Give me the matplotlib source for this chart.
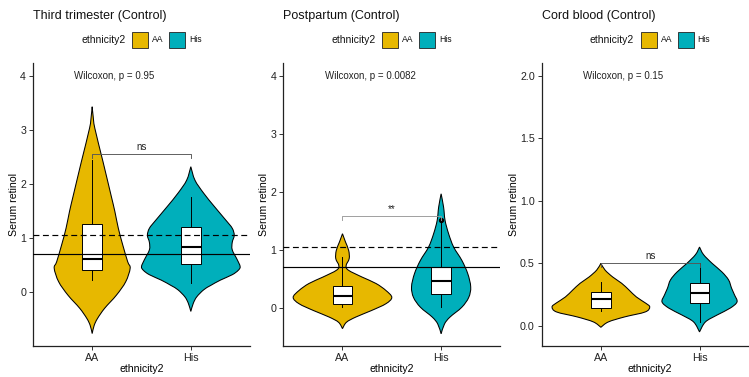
import numpy as np
import matplotlib.pyplot as plt
from matplotlib.patches import Rectangle, PathPatch
from matplotlib.path import Path

plt.rcParams['font.family'] = ['Liberation Sans', 'DejaVu Sans']

# datos
groups = ['AA', 'His']
colors = ['#E7B800', '#00AFBB']
titles = ['Third trimester (Control)', 'Postpartum (Control)', 'Cord blood (Control)']
p_labels = ['Wilcoxon, p = 0.95', 'Wilcoxon, p = 0.0082', 'Wilcoxon, p = 0.15']
sig_labels = ['ns', '**', 'ns']
bracket_y = [2.55, 1.58, 0.50]
label_y = [4.0, 4.0, 2.0]
yticks = [[0, 1, 2, 3, 4], [0, 1, 2, 3, 4], [0.0, 0.5, 1.0, 1.5, 2.0]]
ylims = [(-1.0, 4.24), (-0.66, 4.23), (-0.163, 2.105)]
ref_solid = [0.7, 0.7, None]
ref_dashed = [1.05, 1.05, None]

# contorno de los violines: nivel y medio ancho
third_aa_y = [-0.77, -0.62, -0.49, -0.30, -0.06, 0.19, 0.44, 0.56, 0.87, 1.18, 1.49, 1.80, 2.41, 3.03, 3.25, 3.43]
third_aa_w = [0, 0.02, 0.054, 0.127, 0.245, 0.34, 0.385, 0.36, 0.31, 0.265, 0.23, 0.19, 0.11, 0.027, 0.01, 0]
third_his_y = [-0.36, -0.21, -0.09, 0.04, 0.12, 0.22, 0.32, 0.40, 0.47, 0.60, 0.78, 0.92, 1.05, 1.18, 1.33, 1.58, 1.83, 2.07, 2.32]
third_his_w = [0, 0.025, 0.06, 0.13, 0.20, 0.30, 0.42, 0.48, 0.50, 0.47, 0.42, 0.42, 0.44, 0.42, 0.355, 0.24, 0.13, 0.042, 0]
post_aa_y = [-0.36, -0.25, -0.16, -0.05, 0.07, 0.18, 0.30, 0.42, 0.53, 0.65, 0.73, 0.85, 0.99, 1.14, 1.28]
post_aa_w = [0, 0.04, 0.135, 0.29, 0.44, 0.50, 0.44, 0.34, 0.20, 0.06, 0.037, 0.068, 0.063, 0.03, 0]
post_his_y = [-0.45, -0.28, -0.16, 0.01, 0.18, 0.36, 0.59, 0.82, 1.05, 1.28, 1.51, 1.74, 1.97]
post_his_w = [0, 0.034, 0.09, 0.21, 0.28, 0.30, 0.27, 0.21, 0.127, 0.076, 0.04, 0.025, 0]
cord_aa_y = [-0.013, 0.03, 0.07, 0.11, 0.15, 0.18, 0.23, 0.286, 0.34, 0.39, 0.446, 0.50]
cord_aa_w = [0, 0.076, 0.24, 0.45, 0.495, 0.455, 0.36, 0.285, 0.21, 0.12, 0.042, 0]
cord_his_y = [-0.05, 0.03, 0.086, 0.14, 0.19, 0.246, 0.30, 0.366, 0.43, 0.50, 0.57, 0.63]
cord_his_w = [0, 0.06, 0.18, 0.31, 0.38, 0.355, 0.325, 0.295, 0.228, 0.127, 0.04, 0]

# cajas: bigote bajo, q1, mediana, q3, bigote alto
third_box = [[0.22, 0.41, 0.61, 1.25, 2.45], [0.17, 0.52, 0.84, 1.20, 1.75]]
post_box = [[0.02, 0.06, 0.21, 0.38, 0.87], [0.01, 0.24, 0.47, 0.71, 1.48]]
cord_box = [[0.12, 0.14, 0.21, 0.27, 0.35], [0.03, 0.18, 0.265, 0.345, 0.50]]
outliers = [[[], []], [[], [1.51]], [[], []]]

violins = [[(third_aa_y, third_aa_w), (third_his_y, third_his_w)],
           [(post_aa_y, post_aa_w), (post_his_y, post_his_w)],
           [(cord_aa_y, cord_aa_w), (cord_his_y, cord_his_w)]]
boxes = [third_box, post_box, cord_box]
bracket_col = ['#555555', '#999999', '#555555']


def side_curve(xs, ys):
    # curva suave (catmull-rom pasada a bezier) por los puntos de un lado
    p = np.column_stack([xs, ys])
    p = np.vstack([p[0], p, p[-1]])
    verts = []
    for k in range(1, len(p) - 2):
        c1 = p[k] + (p[k + 1] - p[k - 1]) / 6
        c2 = p[k + 1] - (p[k + 2] - p[k]) / 6
        verts += [c1, c2, p[k + 1]]
    return verts


def violin_patch(x, vy, vw, color):
    vy = np.array(vy)
    vw = np.array(vw)
    right = side_curve(x + vw, vy)
    left = side_curve((x - vw)[::-1], vy[::-1])
    verts = [(x, vy[0])] + right + left + [(x, vy[0])]
    codes = [Path.MOVETO] + [Path.CURVE4] * (len(right) + len(left)) + [Path.CLOSEPOLY]
    return PathPatch(Path(verts, codes), facecolor=color, edgecolor='black', lw=0.75, zorder=2)


W, H = 749, 377
fig = plt.figure(figsize=(W / 100, H / 100), dpi=100)
lefts = [33, 283.3, 541.7]
ylabel_off = [14, 14, 23]
top_px, bot_px, width_px = 63, 346, 217

for i in range(3):
    ax = fig.add_axes([lefts[i] / W, (H - bot_px) / H, width_px / W, (bot_px - top_px) / H])
    for j in range(2):
        vy, vw = violins[i][j]
        x = j + 1
        ax.add_patch(violin_patch(x, vy, vw, colors[j]))
        lo, q1, med, q3, hi = boxes[i][j]
        ax.plot([x, x], [lo, q1], color='black', lw=0.7, zorder=3)
        ax.plot([x, x], [q3, hi], color='black', lw=0.7, zorder=3)
        ax.add_patch(Rectangle((x - 0.1, q1), 0.2, q3 - q1, facecolor='white', edgecolor='black', lw=0.7, zorder=3))
        ax.plot([x - 0.1, x + 0.1], [med, med], color='black', lw=1.5, zorder=4, solid_capstyle='butt')
        for o in outliers[i][j]:
            ax.plot(x, o, 'o', color='black', ms=2.8, zorder=4)

    ylo, yhi = ylims[i]
    tip = 4 * (yhi - ylo) / (bot_px - top_px)
    by = bracket_y[i]
    ax.plot([1, 1, 2, 2], [by - tip, by, by, by - tip], color=bracket_col[i], lw=0.65, zorder=5)
    ax.text(1.5, by + tip * 0.6, sig_labels[i], ha='center', va='bottom', fontsize=7, color='#222222')
    ax.text(0.82, label_y[i], p_labels[i], ha='left', va='center', fontsize=7, color='#222222')

    if ref_solid[i] is not None:
        ax.axhline(ref_solid[i], color='black', lw=0.85, zorder=6)
        ax.axhline(ref_dashed[i], color='black', lw=0.85, ls=(0, (5, 3)), zorder=6)

    ax.set_xlim(0.4, 2.6)
    ax.set_ylim(ylo, yhi)
    ax.set_xticks([1, 2])
    ax.set_xticklabels(groups)
    ax.set_yticks(yticks[i])
    if i == 2:
        ax.set_yticklabels([f'{t:.1f}' for t in yticks[i]])
    else:
        ax.set_yticklabels([str(t) for t in yticks[i]])
    ax.tick_params(labelsize=7.7, length=3, width=0.7, colors='#333333', labelcolor='#222222', pad=2)
    for s in ['top', 'right']:
        ax.spines[s].set_visible(False)
    for s in ['left', 'bottom']:
        ax.spines[s].set_linewidth(0.9)
        ax.spines[s].set_color('#222222')
    ax.set_xlabel('ethnicity2', fontsize=7.6, labelpad=1)
    ax.set_ylabel('Serum retinol', fontsize=7.6)
    ax.yaxis.set_label_coords(-ylabel_off[i] / width_px, 0.5)

    # titulo y leyenda arriba
    L = lefts[i]
    fig.text(L / W, 1 - 19 / H, titles[i], ha='left', va='baseline', fontsize=9, color='#111111')
    fig.text((L + 48) / W, 1 - 40 / H, 'ethnicity2', ha='left', va='center', fontsize=7.5, color='#111111')
    for j, (bx, tx) in enumerate([(99, 119), (136, 156)]):
        fig.patches.append(Rectangle(((L + bx) / W, 1 - 48 / H), 16 / W, 16 / H, transform=fig.transFigure,
                                     facecolor=colors[j], edgecolor='#222222', lw=0.6))
        fig.text((L + tx) / W, 1 - 40 / H, groups[j], ha='left', va='center', fontsize=6.2, color='#111111')

fig.savefig('out.png', dpi=100)
